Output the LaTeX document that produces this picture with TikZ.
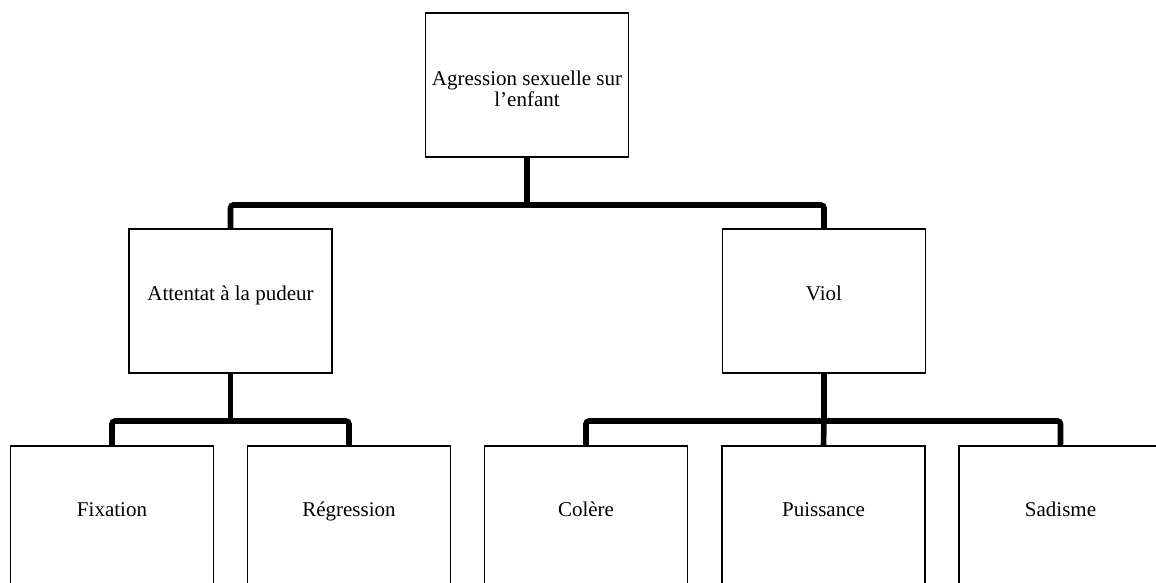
\documentclass[tikz,border=0pt]{standalone}
\usepackage{fontspec}
\setmainfont{Liberation Serif}
\begin{document}
\begin{tikzpicture}[x=1pt,y=-1pt,
  box/.style={draw=black,line width=1.8pt,fill=white,minimum width=203pt,minimum height=144pt,inner sep=0pt},
  lbl/.style={font=\fontsize{21}{21.5}\selectfont,inner sep=0pt,align=center},
  conn/.style={draw=black,line width=5.6pt,rounded corners=3pt}]
\clip (0,0) rectangle (1156,583);
\fill[white] (0,0) rectangle (1156,583);
% connectors
\coordinate (bar1) at (527,205);
\coordinate (bar2) at (230.5,421);
\coordinate (bar3) at (824,421);
% boxes
\node[box] (top) at (527,85) {};
\node[box] (att) at (230.5,301) {};
\node[box] (viol) at (824,301) {};
\node[box] (fix) at (112,518) {};
\node[box] (reg) at (349,518) {};
\node[box] (col) at (586,518) {};
\node[box] (pui) at (823.5,518) {};
\node[box] (sad) at (1060.5,518) {};
\draw[conn] (top.south) -- (bar1);
\draw[conn] (att.north) |- (bar1) -| (viol.north);
\draw[conn] (att.south) -- (bar2);
\draw[conn] (fix.north) |- (bar2) -| (reg.north);
\draw[conn] (viol.south) -- (bar3);
\draw[conn] (col.north) |- (bar3) -| (sad.north);
\draw[conn] (bar3) -- (pui.north);
% labels
\node[lbl] (ttop) at (527,89) {Agression sexuelle sur\\l’enfant};
\node[lbl,anchor=base] (tatt) at (230.5,300) {Attentat à la pudeur};
\node[lbl,anchor=base] (tviol) at (824,300) {Viol};
\node[lbl,anchor=base] (tfix) at (112,516) {Fixation};
\node[lbl,anchor=base] (treg) at (349,516) {Régression};
\node[lbl,anchor=base] (tcol) at (586,516) {Colère};
\node[lbl,anchor=base] (tpui) at (823.5,516) {Puissance};
\node[lbl,anchor=base] (tsad) at (1060.5,516) {Sadisme};
\end{tikzpicture}
\end{document}
